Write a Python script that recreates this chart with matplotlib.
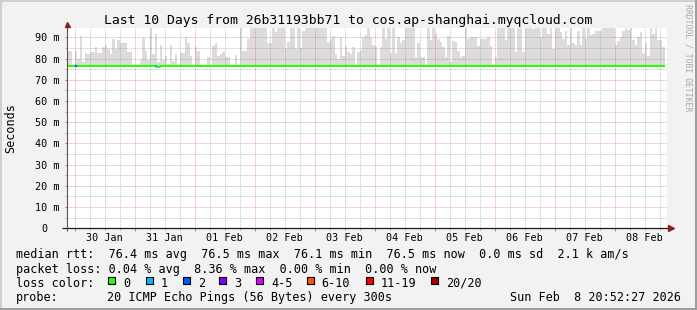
import datetime as dt
import matplotlib
matplotlib.use("Agg")
import matplotlib.pyplot as plt
import matplotlib.dates as mdates
from matplotlib.ticker import MultipleLocator, FuncFormatter
from matplotlib.patches import Rectangle

# ---------------- data ----------------
title = "Last 10 Days from 26b31193bb71 to cos.ap-shanghai.myqcloud.com"
y_label = "Seconds"
watermark = "RRDTOOL / TOBI OETIKER"
range_start = dt.datetime(2026, 1, 29, 20, 52, 27)
range_end = dt.datetime(2026, 2, 8, 20, 52, 27)
first_hour = dt.datetime(2026, 1, 29, 21, 0, 0)

# hourly top of the smoke (slowest ping, ms)
smoke_top = [
    83.7, 83.7, 77.0, 83.7, 80.0, 90.5, 78.2, 82.6, 82.2, 83.0,
    83.0, 85.3, 82.8, 82.8, 85.3, 86.4, 84.5, 82.2, 89.2, 84.5,
    88.8, 87.2, 87.2, 87.2, 83.3, 83.3, 76.4, 76.4, 76.4, 79.3,
    89.7, 83.7, 79.3, 95.0, 82.2, 91.6, 78.2, 86.6, 79.5, 81.4,
    77.5, 86.6, 78.7, 82.2, 76.4, 82.5, 82.5, 90.0, 87.2, 81.4,
    76.4, 85.3, 83.7, 76.4, 76.4, 76.4, 80.6, 76.4, 86.1, 87.2,
    81.4, 82.2, 83.0, 80.9, 80.6, 76.4, 76.4, 81.7, 76.4, 95.0,
    83.7, 83.7, 89.2, 95.0, 95.0, 95.0, 95.0, 95.0, 95.0, 95.0,
    87.2, 87.2, 95.0, 92.4, 95.0, 95.0, 95.0, 84.5, 87.7, 95.0,
    95.0, 84.5, 95.0, 85.0, 93.2, 95.0, 95.0, 95.0, 95.0, 95.0,
    95.0, 95.0, 95.0, 95.0, 87.7, 89.2, 90.8, 82.2, 79.8, 90.3,
    81.4, 86.1, 83.0, 82.2, 85.6, 76.4, 83.0, 83.4, 90.0, 91.0,
    95.0, 90.0, 86.6, 86.1, 76.4, 85.3, 95.0, 89.2, 95.0, 82.5,
    95.0, 82.5, 90.0, 87.2, 88.5, 95.0, 95.0, 95.0, 95.0, 80.6,
    87.2, 80.6, 80.6, 76.4, 95.0, 88.8, 95.0, 91.6, 89.2, 87.7,
    85.3, 80.6, 90.8, 78.2, 88.1, 87.7, 83.7, 80.6, 81.4, 95.0,
    89.2, 90.0, 90.0, 90.3, 86.1, 89.2, 89.2, 89.2, 90.0, 86.1,
    76.4, 80.6, 95.0, 95.0, 95.0, 88.5, 95.0, 95.0, 95.0, 83.0,
    95.0, 95.0, 83.0, 95.0, 95.0, 95.0, 94.0, 95.0, 95.0, 90.0,
    95.0, 95.0, 91.6, 95.0, 84.5, 95.0, 95.0, 92.4, 89.2, 93.0,
    86.6, 95.0, 87.2, 86.6, 93.2, 86.6, 95.0, 89.2, 95.0, 91.3,
    91.6, 92.8, 92.8, 92.8, 95.0, 95.0, 95.0, 95.0, 95.0, 86.6,
    88.1, 90.3, 92.8, 95.0, 93.5, 95.0, 88.5, 86.6, 90.3, 92.4,
    82.5, 87.2, 81.4, 95.0, 91.6, 95.0, 88.8, 88.8, 85.3,
]

# hourly median rtt (ms)
median_rtt = [
    76.4, 76.4, 76.4, 76.4, 76.4, 76.4, 76.4, 76.4, 76.4, 76.4,
    76.4, 76.4, 76.4, 76.4, 76.4, 76.4, 76.4, 76.4, 76.4, 76.4,
    76.4, 76.4, 76.4, 76.4, 76.4, 76.4, 76.4, 76.4, 76.4, 76.4,
    76.4, 76.4, 76.4, 76.4, 76.4, 76.4, 76.1, 76.4, 76.4, 76.4,
    76.4, 76.4, 76.4, 76.4, 76.4, 76.4, 76.4, 76.4, 76.4, 76.4,
    76.4, 76.4, 76.4, 76.4, 76.4, 76.4, 76.4, 76.4, 76.4, 76.4,
    76.4, 76.4, 76.4, 76.4, 76.4, 76.4, 76.4, 76.4, 76.4, 76.4,
    76.4, 76.4, 76.4, 76.4, 76.4, 76.4, 76.4, 76.4, 76.4, 76.4,
    76.4, 76.4, 76.4, 76.4, 76.4, 76.4, 76.4, 76.4, 76.4, 76.4,
    76.4, 76.4, 76.4, 76.4, 76.4, 76.4, 76.4, 76.4, 76.4, 76.4,
    76.4, 76.4, 76.4, 76.4, 76.4, 76.4, 76.4, 76.4, 76.4, 76.4,
    76.4, 76.4, 76.4, 76.4, 76.4, 76.4, 76.4, 76.4, 76.4, 76.4,
    76.4, 76.4, 76.4, 76.4, 76.4, 76.4, 76.4, 76.4, 76.4, 76.4,
    76.4, 76.4, 76.4, 76.4, 76.4, 76.4, 76.4, 76.4, 76.4, 76.4,
    76.4, 76.4, 76.4, 76.4, 76.4, 76.4, 76.4, 76.4, 76.4, 76.4,
    76.4, 76.4, 76.4, 76.4, 76.4, 76.4, 76.4, 76.4, 76.4, 76.4,
    76.4, 76.4, 76.4, 76.4, 76.4, 76.4, 76.4, 76.4, 76.4, 76.4,
    76.4, 76.4, 76.4, 76.4, 76.4, 76.4, 76.4, 76.4, 76.4, 76.4,
    76.4, 76.4, 76.4, 76.4, 76.4, 76.4, 76.4, 76.4, 76.4, 76.4,
    76.4, 76.4, 76.4, 76.4, 76.4, 76.4, 76.4, 76.4, 76.4, 76.4,
    76.4, 76.4, 76.4, 76.4, 76.4, 76.4, 76.4, 76.4, 76.4, 76.4,
    76.4, 76.4, 76.4, 76.4, 76.4, 76.4, 76.4, 76.4, 76.4, 76.4,
    76.4, 76.4, 76.4, 76.4, 76.4, 76.4, 76.4, 76.4, 76.4, 76.4,
    76.4, 76.4, 76.4, 76.4, 76.4, 76.4, 76.5, 76.5, 76.5,
]

# hourly lost pings (of 20)
loss_count = [
    0, 0, 0, 2, 0, 0, 0, 0, 0, 0, 0, 0, 0, 0, 0, 0, 0, 0, 0, 0,
    0, 0, 0, 0, 0, 0, 0, 0, 0, 0, 0, 0, 0, 0, 0, 1, 0, 0, 0, 0,
    0, 0, 0, 0, 0, 0, 0, 0, 0, 0, 0, 0, 0, 0, 0, 0, 0, 0, 0, 0,
    0, 0, 0, 0, 0, 0, 0, 0, 0, 0, 0, 0, 0, 0, 0, 0, 0, 0, 0, 0,
    0, 0, 0, 0, 0, 0, 0, 0, 0, 0, 0, 0, 0, 0, 0, 0, 0, 0, 0, 0,
    0, 0, 0, 0, 0, 0, 0, 0, 0, 0, 0, 0, 0, 0, 0, 0, 0, 0, 0, 0,
    0, 0, 0, 0, 0, 0, 0, 0, 0, 0, 0, 0, 0, 0, 0, 0, 0, 0, 0, 0,
    0, 0, 0, 0, 0, 0, 0, 0, 0, 0, 0, 0, 0, 0, 0, 0, 0, 0, 0, 0,
    0, 0, 0, 0, 0, 0, 0, 0, 0, 0, 0, 0, 0, 0, 0, 0, 0, 0, 0, 0,
    0, 0, 0, 0, 0, 0, 0, 0, 0, 0, 0, 0, 0, 0, 0, 0, 0, 0, 0, 0,
    0, 0, 0, 0, 0, 0, 0, 0, 0, 0, 0, 0, 0, 0, 0, 0, 0, 0, 0, 0,
    0, 0, 0, 0, 0, 0, 0, 0, 0, 0, 0, 0, 0, 0, 0, 0, 0, 0, 0,
]

loss_labels = ["0", "1", "2", "3", "4-5", "6-10", "11-19", "20/20"]
loss_upper = [0, 1, 2, 3, 5, 10, 19, 20]
loss_colors = ["#26ff00", "#00b8ff", "#0059ff", "#7e00ff",
               "#dd00ff", "#ff5500", "#ff0000", "#a10000"]

rtt_stats = ["76.4 ms avg", "76.5 ms max", "76.1 ms min",
             "76.5 ms now", "0.0 ms sd", "2.1 k am/s"]
loss_stats = ["0.04 % avg", "8.36 % max", "0.00 % min", "0.00 % now"]
probe_text = "20 ICMP Echo Pings (56 Bytes) every 300s"
timestamp = "Sun Feb  8 20:52:27 2026"

# ---------------- style ----------------
W, H = 697, 310
BACK = "#f2f2f2"
SHADE_A = "#cfcfcf"
SHADE_B = "#9e9e9e"
GRID = "#8a8a8a"
MGRID = "#dc5252"
ARROW = "#8a1f1f"
AXIS = "#1f1f1f"
SMOKE = "#dcdcdc"
MONO = "DejaVu Sans Mono"

plt.rcParams["font.family"] = MONO

fig = plt.figure(figsize=(W / 100, H / 100), dpi=100, facecolor=BACK)


def fx(x):
    return x / W


def fy(y):
    return 1 - y / H


ax = fig.add_axes([fx(67), fy(228.3), 600 / W, 200 / H])
ax.set_facecolor("white")
for s in ax.spines.values():
    s.set_visible(False)

n = len(smoke_top)
edges = [first_hour + dt.timedelta(hours=i) for i in range(n + 1)]
top_ext = smoke_top + [smoke_top[-1]]
med_ext = median_rtt + [median_rtt[-1]]

ax.fill_between(edges, med_ext, top_ext, step="post", color=SMOKE,
                lw=0, zorder=1)
ax.step(edges, med_ext, where="post", color=loss_colors[0], lw=1.5,
        zorder=3, solid_capstyle="butt")


def loss_bucket(c):
    for k, up in enumerate(loss_upper):
        if c <= up:
            return k
    return len(loss_upper) - 1


for i, c in enumerate(loss_count):
    if c > 0:
        ax.hlines(median_rtt[i], edges[i], edges[i + 1],
                  color=loss_colors[loss_bucket(c)], lw=1.5, zorder=4)

ax.set_xlim(range_start, range_end)
ax.set_ylim(0, 94.24)

ax.xaxis.set_major_locator(mdates.DayLocator())
ax.xaxis.set_minor_locator(mdates.HourLocator(byhour=[6, 12, 18]))
ax.yaxis.set_major_locator(MultipleLocator(10))
ax.yaxis.set_minor_locator(MultipleLocator(5))
ax.yaxis.set_major_formatter(
    FuncFormatter(lambda v, _: "0  " if v == 0 else f"{v:.0f} m"))

ax.set_axisbelow(False)
dots = (0.5, (2, 2))
ax.grid(which="major", color=MGRID, lw=0.36, ls=dots, snap=True)
ax.grid(which="minor", color=GRID, lw=0.36, ls=dots, snap=True)

ax.tick_params(axis="x", which="major", length=2.2, width=0.72,
               color="#e07070", labelbottom=False)
ax.tick_params(axis="x", which="minor", length=1.5, width=0.72,
               color="#b0b0b0", labelbottom=False)
ax.tick_params(axis="y", which="major", length=1.5, width=0.72,
               color="#e07070", labelsize=7.3, pad=3.6)
ax.tick_params(axis="y", which="minor", length=1.2, width=0.72,
               color="#b0b0b0")

# day labels at noon
day = range_start.replace(hour=12, minute=0, second=0)
while day < range_end:
    if day > range_start:
        ax.text(day, -0.0635, day.strftime("%d %b"),
                transform=ax.get_xaxis_transform(), ha="center",
                va="baseline", fontsize=7.3)
    day += dt.timedelta(days=1)

# axes with arrows
ax.plot([-0.0083, 1.006], [0, 0], transform=ax.transAxes, clip_on=False,
        color=AXIS, lw=0.9, zorder=5, solid_capstyle="butt")
ax.plot([1.0065], [0], transform=ax.transAxes, clip_on=False, marker=">",
        ms=3.8, color=ARROW, mec=ARROW, zorder=6)
ax.plot([0, 0], [-0.0135, 1.015], transform=ax.transAxes, clip_on=False,
        color="#555555", lw=0.8, zorder=5, solid_capstyle="butt")
ax.plot([0], [1.023], transform=ax.transAxes, clip_on=False, marker="^",
        ms=3.6, color=ARROW, mec=ARROW, zorder=6)

# texts
fig.text(fx(348.5), fy(24.1), title, ha="center", va="baseline",
         fontsize=9.45)
fig.text(fx(11), fy(128), y_label, rotation=90, ha="center", va="center",
         fontsize=8.5)
fig.text(fx(687.7), fy(4), watermark, rotation=270, ha="center", va="top",
         fontsize=5.9, color="#a8a8a8")

LEG = 8.45
fig.text(fx(16), fy(258.3), "median rtt:  " + "  ".join(rtt_stats),
         va="baseline", fontsize=LEG)
fig.text(fx(16), fy(272.5), "packet loss: " + "  ".join(loss_stats),
         va="baseline", fontsize=LEG)
fig.text(fx(16), fy(286.7), "loss color:", va="baseline", fontsize=LEG)
fig.text(fx(16), fy(300.9), "probe:", va="baseline", fontsize=LEG)
fig.text(fx(107.3), fy(300.9), probe_text, va="baseline", fontsize=LEG)
fig.text(fx(680.5), fy(300.9), timestamp, va="baseline", ha="right",
         fontsize=LEG)

box_x = [108.3, 145.7, 182.7, 219.3, 256.0, 306.7, 365.7, 430.7]
for bx, lab, col in zip(box_x, loss_labels, loss_colors):
    fig.add_artist(Rectangle((fx(bx), fy(284.0)), 7 / W, 7 / H,
                             transform=fig.transFigure, facecolor=col,
                             edgecolor="black", lw=0.8))
    fig.text(fx(bx + 15), fy(286.7), lab, va="baseline", fontsize=LEG)

# 3D frame
fig.add_artist(Rectangle((0, 1 - 2 / H), 1, 2 / H, transform=fig.transFigure,
                         facecolor=SHADE_A, lw=0))
fig.add_artist(Rectangle((0, 0), 2 / W, 1, transform=fig.transFigure,
                         facecolor=SHADE_A, lw=0))
fig.add_artist(Rectangle((0, 0), 1, 2 / H, transform=fig.transFigure,
                         facecolor=SHADE_B, lw=0))
fig.add_artist(Rectangle((1 - 2 / W, 0), 2 / W, 1, transform=fig.transFigure,
                         facecolor=SHADE_B, lw=0))

fig.savefig("out.png", dpi=100, facecolor=BACK)
